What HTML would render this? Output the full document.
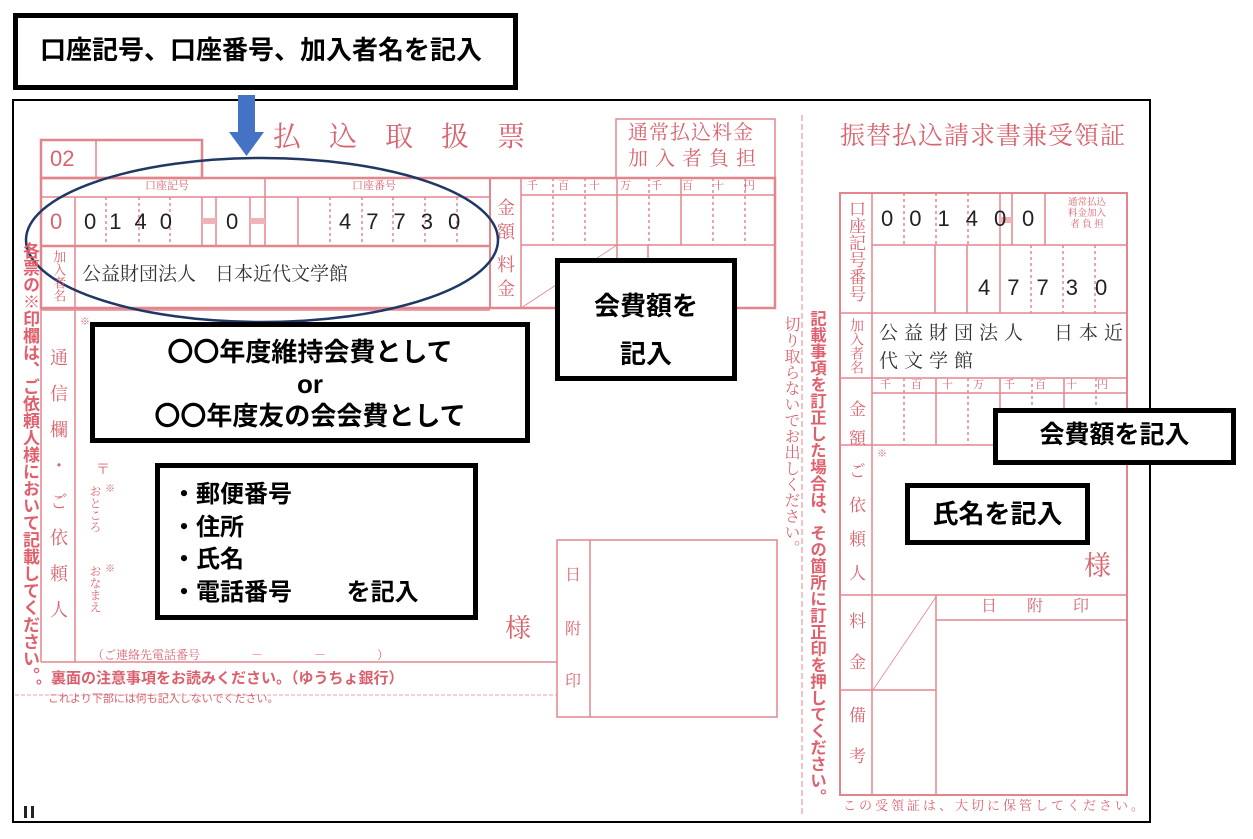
<!DOCTYPE html>
<html><head><meta charset="utf-8"><style>
html,body{margin:0;padding:0;background:#fff;}
#c{position:relative;width:1253px;height:839px;overflow:hidden;background:#fff;}
.t{position:absolute;white-space:nowrap;line-height:1;}
.r{color:#d9646f;font-family:"Liberation Serif","Noto Serif CJK SC",serif;}
.rs{color:#d9646f;font-family:"Liberation Sans","Noto Sans CJK JP",sans-serif;}
.v{writing-mode:vertical-rl;}
.b{color:#000;font-weight:bold;font-family:"Liberation Sans","Noto Sans CJK JP",sans-serif;}
.d{color:#222;font-family:"Liberation Sans","DejaVu Sans",sans-serif;font-size:22px;}
.box{position:absolute;border:5px solid #000;background:#fff;box-sizing:border-box;}
</style></head><body><div id="c">
<svg width="1253" height="839" style="position:absolute;left:0;top:0" xmlns="http://www.w3.org/2000/svg">
<g fill="none" stroke="#e3858d" stroke-width="1.5">
<rect x="13" y="100" width="1137" height="722" stroke="#000" stroke-width="2"/>
<rect x="41" y="140" width="161" height="38" stroke-width="2.5"/>
<line x1="96" y1="140" x2="96" y2="178"/>
<rect x="41" y="178" width="734" height="130" stroke-width="2.5"/>
<line x1="41" y1="197" x2="490" y2="197"/>
<line x1="41" y1="246" x2="490" y2="246" stroke-width="2.5"/>
<line x1="490" y1="178" x2="490" y2="308" stroke-width="2"/>
<line x1="521" y1="178" x2="521" y2="308"/>
<line x1="521" y1="195" x2="775" y2="195"/>
<line x1="521" y1="245" x2="775" y2="245"/>
<line x1="75" y1="197" x2="75" y2="308"/>
<line x1="265" y1="178" x2="265" y2="246"/>
<g stroke-dasharray="3,3"><line x1="106" y1="197" x2="106" y2="246"/><line x1="139" y1="197" x2="139" y2="246"/><line x1="170" y1="197" x2="170" y2="246"/><line x1="330" y1="197" x2="330" y2="246"/><line x1="362" y1="197" x2="362" y2="246"/><line x1="393" y1="197" x2="393" y2="246"/><line x1="425" y1="197" x2="425" y2="246"/><line x1="457" y1="197" x2="457" y2="246"/>
<line x1="553" y1="178" x2="553" y2="245"/><line x1="585" y1="178" x2="585" y2="245"/><line x1="649" y1="178" x2="649" y2="245"/><line x1="713" y1="178" x2="713" y2="245"/><line x1="745" y1="178" x2="745" y2="245"/></g>
<line x1="202" y1="197" x2="202" y2="246"/><line x1="216" y1="197" x2="216" y2="246"/><line x1="250" y1="197" x2="250" y2="246"/><line x1="298" y1="197" x2="298" y2="246"/>
<line x1="617" y1="178" x2="617" y2="308"/><line x1="681" y1="178" x2="681" y2="245"/><line x1="648" y1="245" x2="648" y2="308"/>
<line x1="521" y1="308" x2="617" y2="245" stroke-width="0.8"/>
<rect x="202" y="218" width="14" height="6" fill="#f2b3b8" stroke="none"/>
<rect x="250" y="218" width="15" height="6" fill="#f2b3b8" stroke="none"/>
<rect x="616" y="119" width="159" height="59"/>
<line x1="41" y1="178" x2="41" y2="662"/>
<line x1="75" y1="310" x2="75" y2="662"/>
<line x1="41" y1="310" x2="490" y2="310"/>
<line x1="41" y1="662" x2="557" y2="662"/>
<line x1="15" y1="695" x2="557" y2="695" stroke-dasharray="4,2" stroke-width="0.8"/>
<rect x="557" y="540" width="220" height="177"/>
<line x1="590" y1="540" x2="590" y2="717"/>
<line x1="802" y1="115" x2="802" y2="815" stroke-dasharray="6,3" stroke-width="1"/>
<rect x="840" y="193" width="287" height="602" stroke-width="2"/>
<line x1="872" y1="193" x2="872" y2="795"/>
<line x1="872" y1="245" x2="1127" y2="245"/>
<line x1="840" y1="313" x2="1127" y2="313"/>
<line x1="840" y1="378" x2="1127" y2="378"/>
<line x1="872" y1="393" x2="1127" y2="393"/>
<line x1="840" y1="445" x2="1127" y2="445"/>
<line x1="840" y1="595" x2="1127" y2="595"/>
<line x1="840" y1="690" x2="936" y2="690"/>
<line x1="936" y1="595" x2="936" y2="795"/>
<line x1="936" y1="620" x2="1127" y2="620"/>
<line x1="873" y1="690" x2="936" y2="597" stroke-width="0.8"/>
<line x1="1000" y1="193" x2="1000" y2="313"/><line x1="1012" y1="193" x2="1012" y2="245"/><line x1="1045" y1="193" x2="1045" y2="245"/>
<line x1="935" y1="245" x2="935" y2="313"/><line x1="967" y1="245" x2="967" y2="313"/>
<line x1="936" y1="378" x2="936" y2="445"/><line x1="1000" y1="378" x2="1000" y2="445"/><line x1="1064" y1="378" x2="1064" y2="445"/>
<g stroke-dasharray="3,3"><line x1="904" y1="193" x2="904" y2="245"/><line x1="936" y1="193" x2="936" y2="245"/><line x1="968" y1="193" x2="968" y2="245"/><line x1="1031" y1="245" x2="1031" y2="313"/><line x1="1063" y1="245" x2="1063" y2="313"/><line x1="1095" y1="245" x2="1095" y2="313"/>
<line x1="904" y1="378" x2="904" y2="445"/><line x1="968" y1="378" x2="968" y2="445"/><line x1="1032" y1="378" x2="1032" y2="445"/><line x1="1096" y1="378" x2="1096" y2="445"/></g>
<rect x="1000" y="217" width="12" height="6" fill="#f2b3b8" stroke="none"/>
</g>
<rect x="238" y="95" width="17" height="37" fill="#4472c4"/>
<polygon points="229,132 264,132 246.5,156" fill="#4472c4"/>
<ellipse cx="262" cy="240" rx="236" ry="82" fill="none" stroke="#1f3864" stroke-width="2.5"/>
<rect x="24" y="806" width="3" height="12" fill="#222"/><rect x="31" y="806" width="3" height="12" fill="#222"/>
</svg>

<div class="t r" style="left:273px;top:124px;font-size:28px;letter-spacing:28px">払込取扱票</div>
<div class="t rs" style="left:50px;top:148px;font-size:22px">02</div>
<div class="t r" style="left:628px;top:123px;font-size:20px;letter-spacing:1px">通常払込料金</div>
<div class="t r" style="left:628px;top:149px;font-size:20px;letter-spacing:7px">加入者負担</div>
<div class="t r" style="left:145px;top:181px;font-size:11px">口座記号</div>
<div class="t r" style="left:352px;top:181px;font-size:11px">口座番号</div>
<div class="t r" style="left:527px;top:181px;font-size:11px;letter-spacing:20px">千百十万千百十円</div>
<div class="t r v" style="left:496px;top:198px;font-size:18px;letter-spacing:6px">金額</div>
<div class="t r v" style="left:496px;top:255px;font-size:18px;letter-spacing:6px">料金</div>
<div class="t rs" style="left:50px;top:211px;font-size:22px">0</div>
<div class="t d" style="left:84px;top:211px;letter-spacing:13px">0140</div>
<div class="t d" style="left:226px;top:211px">0</div>
<div class="t d" style="left:339px;top:211px;letter-spacing:15px">47730</div>
<div class="t r v" style="left:51px;top:250px;font-size:13px;line-height:1.1">加入者名</div>
<div class="t r" style="left:82px;top:265px;font-size:19px;color:#333">公益財団法人　日本近代文学館</div>
<div class="t rs v" style="left:21px;top:242px;font-size:17px;color:#e0606e;font-weight:bold">各票の※印欄は、ご依頼人様において記載してください。</div>
<div class="t r v" style="left:49px;top:348px;font-size:18px;letter-spacing:18px">通信欄・ご依頼人</div>
<div class="t r" style="left:80px;top:318px;font-size:10px">※</div>
<div class="t r v" style="left:89px;top:485px;font-size:12px">おところ</div>
<div class="t r v" style="left:89px;top:565px;font-size:12px">おなまえ</div>
<div class="t r" style="left:96px;top:464px;font-size:14px">〒</div>
<div class="t r" style="left:105px;top:485px;font-size:10px">※</div>
<div class="t r" style="left:105px;top:565px;font-size:10px">※</div>
<div class="t r" style="left:92px;top:649px;font-size:12px">（ご連絡先電話番号　　　　 －　　　　 －　　　　 ）</div>
<div class="t r" style="left:505px;top:616px;font-size:26px">様</div>
<div class="t rs" style="left:36px;top:671px;font-size:15px;font-weight:bold;color:#d9606c">。裏面の注意事項をお読みください。（ゆうちょ銀行）</div>
<div class="t rs" style="left:48px;top:694px;font-size:11px">これより下部には何も記入しないでください。</div>
<div class="t r" style="left:565px;top:568px;font-size:16px">日</div>
<div class="t r" style="left:565px;top:622px;font-size:16px">附</div>
<div class="t r" style="left:565px;top:674px;font-size:16px">印</div>
<div class="t r v" style="left:782px;top:316px;font-size:16px">切り取らないでお出しください。</div>
<div class="t rs v" style="left:808px;top:310px;font-size:16.5px;font-weight:bold;color:#e0606e">記載事項を訂正した場合は、その箇所に訂正印を押してください。</div>
<div class="t r" style="left:840px;top:124px;font-size:25px;letter-spacing:1px">振替払込請求書兼受領証</div>
<div class="t r v" style="left:847px;top:200px;font-size:17px;line-height:1">口座記号番号</div>
<div class="t d" style="left:881px;top:208px;letter-spacing:16px">00140</div>
<div class="t d" style="left:1022px;top:208px">0</div>
<div class="t r" style="left:1047px;top:198px;font-size:9.5px;line-height:1.15;width:80px;text-align:center">通常払込<br>料金加入<br>者 負 担</div>
<div class="t d" style="left:978px;top:277px;letter-spacing:17px">47730</div>
<div class="t r v" style="left:848px;top:318px;font-size:14px">加入者名</div>
<div class="t r" style="left:879px;top:320px;font-size:19px;color:#333;letter-spacing:6px;line-height:28px">公益財団法人　日本近<br>代文学館</div>
<div class="t r" style="left:880px;top:380px;font-size:11px;letter-spacing:20px">千百十万千百十円</div>
<div class="t r v" style="left:847px;top:400px;font-size:17px;letter-spacing:12px">金額</div>
<div class="t r v" style="left:847px;top:462px;font-size:17px;letter-spacing:17px">ご依頼人</div>
<div class="t r" style="left:877px;top:450px;font-size:10px">※</div>
<div class="t r" style="left:1084px;top:553px;font-size:27px">様</div>
<div class="t r v" style="left:847px;top:612px;font-size:17px;letter-spacing:24px">料金</div>
<div class="t r v" style="left:847px;top:706px;font-size:17px;letter-spacing:24px">備考</div>
<div class="t r" style="left:981px;top:599px;font-size:16px;letter-spacing:30px">日附印</div>
<div class="t r" style="left:843px;top:799px;font-size:13px;letter-spacing:3px">この受領証は、大切に保管してください。</div>

<div class="box" style="left:13px;top:13px;width:505px;height:77px"></div>
<div class="t b" style="left:40px;top:37px;font-size:26px">口座記号、口座番号、加入者名を記入</div>
<div class="box" style="left:555px;top:258px;width:182px;height:123px"></div>
<div class="t b" style="left:555px;top:282px;width:182px;text-align:center;font-size:26px;line-height:48px">会費額を<br>記入</div>
<div class="box" style="left:90px;top:322px;width:440px;height:121px"></div>
<div class="t b" style="left:90px;top:336px;width:440px;text-align:center;font-size:26px;line-height:32px">〇〇年度維持会費として<br>or<br>〇〇年度友の会会費として</div>
<div class="box" style="left:155px;top:463px;width:323px;height:157px"></div>
<div class="t b" style="left:172px;top:479px;font-size:24px;line-height:32.5px">・郵便番号<br>・住所<br>・氏名<br>・電話番号　　 を記入</div>
<div class="box" style="left:993px;top:408px;width:243px;height:57px"></div>
<div class="t b" style="left:993px;top:423px;width:243px;text-align:center;font-size:25px">会費額を記入</div>
<div class="box" style="left:905px;top:483px;width:185px;height:62px"></div>
<div class="t b" style="left:905px;top:501px;width:185px;text-align:center;font-size:26px">氏名を記入</div>
</div></body></html>
